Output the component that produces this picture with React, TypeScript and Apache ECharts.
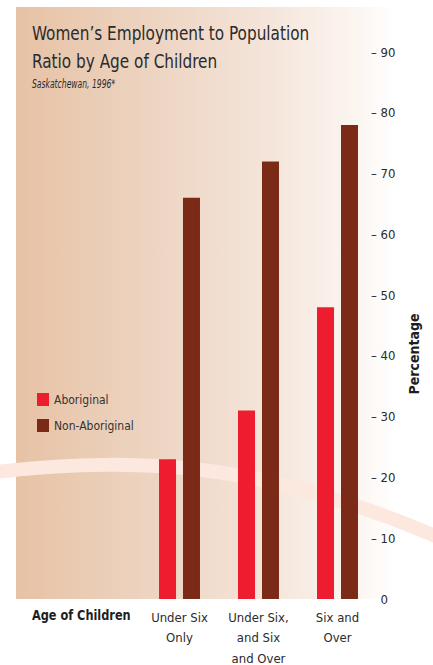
import React, { useEffect, useRef } from "react";
import * as echarts from "echarts";

const categories = ["Under Six\nOnly", "Under Six,\nand Six\nand Over", "Six and\nOver"];
const aboriginal = [23, 31, 48];
const nonAboriginal = [66, 72, 78];
const yTicks = { min: 0, max: 90, interval: 10 };

const FAMILY = "'DejaVu Sans Condensed', 'DejaVu Sans', sans-serif";
const RED = "#ED1C2E";
const BROWN = "#7A2A16";
const TEXT = "#2b2b2b";

export default function App() {
  const ref = useRef<HTMLDivElement>(null);

  useEffect(() => {
    document.body.style.margin = "0";
    const chart = echarts.init(ref.current!, null, { renderer: "svg" });
    chart.setOption({
      animation: false,
      backgroundColor: "#ffffff",
      textStyle: { fontFamily: FAMILY },
      graphic: [
        {
          type: "rect",
          z: -10,
          shape: { x: 16, y: 7, width: 380, height: 592 },
          style: {
            fill: new echarts.graphic.LinearGradient(0, 0, 1, 0, [
              { offset: 0, color: "#E7C2A5" },
              { offset: 0.35, color: "#EDD4C1" },
              { offset: 0.65, color: "#F4E4D9" },
              { offset: 0.88, color: "#FBF4EF" },
              { offset: 1, color: "#FFFFFF" },
            ]),
          },
        },
        {
          type: "bezierCurve",
          z: -9,
          shape: { x1: -5, y1: 472, cpx1: 150, cpy1: 455, cpx2: 270, cpy2: 465, x2: 440, y2: 538 },
          style: { stroke: "#FCE8DF", lineWidth: 14, fill: "none" },
        },
        {
          type: "text",
          x: 32,
          y: 19,
          scaleX: 0.85,
          style: {
            text: "Women’s Employment to Population\nRatio by Age of Children",
            font: `20px ${FAMILY}`,
            lineHeight: 28,
            fill: TEXT,
          },
        },
        {
          type: "text",
          x: 32,
          y: 77,
          scaleX: 0.68,
          style: {
            text: "Saskatchewan, 1996*",
            font: `italic 12.5px ${FAMILY}`,
            fill: TEXT,
          },
        },
        {
          type: "text",
          x: 32,
          y: 608,
          scaleX: 0.9,
          style: {
            text: "Age of Children",
            font: `bold 14px ${FAMILY}`,
            fill: "#1e1e1e",
          },
        },
        {
          type: "text",
          x: 414,
          y: 354,
          rotation: Math.PI / 2,
          style: {
            text: "Percentage",
            font: `bold 14px ${FAMILY}`,
            fill: "#1e1e1e",
            align: "center",
            verticalAlign: "middle",
          },
        },
      ],
      legend: {
        orient: "vertical",
        left: 32,
        top: 388,
        itemWidth: 12,
        itemHeight: 13,
        itemGap: 13,
        icon: "rect",
        textStyle: { fontFamily: FAMILY, fontSize: 12, color: "#333" },
        data: ["Aboriginal", "Non-Aboriginal"],
      },
      grid: { left: 140, right: 56, top: 52, bottom: 66, outerBoundsMode: "none", containLabel: false },
      xAxis: {
        type: "category",
        data: categories,
        axisLine: { show: false },
        axisTick: { show: false },
        axisLabel: {
          interval: 0,
          margin: 8,
          fontFamily: FAMILY,
          fontSize: 13,
          lineHeight: 20.5,
          color: TEXT,
          verticalAlign: "top",
        },
      },
      yAxis: {
        type: "value",
        position: "right",
        min: yTicks.min,
        max: yTicks.max,
        interval: yTicks.interval,
        splitLine: { show: false },
        axisLine: { show: false },
        axisTick: { show: false },
        axisLabel: {
          margin: -6,
          align: "left",
          fontFamily: FAMILY,
          fontSize: 13,
          color: TEXT,
          formatter: (v: number) => (v === 0 ? "{h|– }{n|0}" : "– " + v),
          rich: {
            h: { color: "transparent", fontFamily: FAMILY, fontSize: 13 },
            n: { color: TEXT, fontFamily: FAMILY, fontSize: 13 },
          },
        },
      },
      series: [
        {
          name: "Aboriginal",
          type: "bar",
          data: aboriginal,
          barWidth: 17,
          barGap: "41%",
          itemStyle: { color: RED },
        },
        {
          name: "Non-Aboriginal",
          type: "bar",
          data: nonAboriginal,
          barWidth: 17,
          barGap: "41%",
          itemStyle: { color: BROWN },
        },
      ],
    });
    return () => chart.dispose();
  }, []);

  return <div ref={ref} style={{ width: 433, height: 665 }} />;
}
